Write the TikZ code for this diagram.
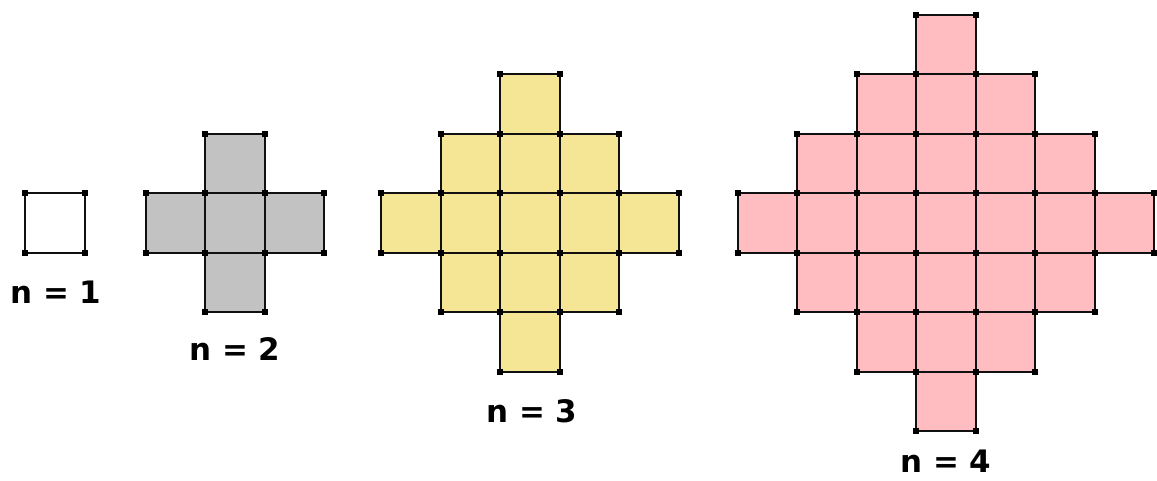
\documentclass[tikz,border=0pt]{standalone}
\usepackage{fontspec}
\setmainfont{DejaVu Sans}
\usepackage{tikz}
\usetikzlibrary{positioning, calc}
\definecolor{cellgray}{HTML}{C2C2C2}
\definecolor{cellyellow}{HTML}{F4E694}
\definecolor{cellpink}{HTML}{FFBCC1}
\definecolor{edgeblack}{HTML}{101010}
\newcommand{\cs}{59.5}
% diamond of cells: #1 = n, #2/#3 = centre, #4 = fill colour
\newcommand{\cellgrid}[4]{%
  \pgfmathtruncatemacro{\m}{#1-1}
  \foreach \i in {-\m,...,\m}{
    \foreach \j in {-\m,...,\m}{
      \pgfmathtruncatemacro{\d}{abs(\i)+abs(\j)}
      \ifnum\d<#1
        \filldraw[cellbox, fill=#4] ({#2+(\i-0.5)*\cs},{#3+(\j-0.5)*\cs}) rectangle ++(\cs,\cs);
      \fi
    }
  }
  \foreach \i in {-\m,...,\m}{
    \foreach \j in {-\m,...,\m}{
      \pgfmathtruncatemacro{\d}{abs(\i)+abs(\j)}
      \ifnum\d<#1
        \foreach \a/\b in {-0.5/-0.5, 0.5/-0.5, -0.5/0.5, 0.5/0.5}
          \fill[black] ({#2+(\i+\a)*\cs-3.2},{#3+(\j+\b)*\cs-3.2}) rectangle ++(6.4,6.4);
      \fi
    }
  }
}

\begin{document}
\begin{tikzpicture}[
  x=0.025cm, y=-0.025cm,
  cellbox/.style={draw=edgeblack, line width=1.5pt},
  caption/.style={font=\fontsize{22}{26}\selectfont\bfseries, anchor=base, inner sep=0pt}
]
  \useasboundingbox (0,0) rectangle (1157,480);

  \cellgrid{1}{55}{223}{white}
  \cellgrid{2}{235}{223}{cellgray}
  \cellgrid{3}{530}{223}{cellyellow}
  \cellgrid{4}{946}{223}{cellpink}

  \node[caption] (lbl1) at (56,303) {n = 1};
  \node[caption] (lbl2) at (235,360) {n = 2};
  \node[caption] (lbl3) at (532,422) {n = 3};
  \node[caption] (lbl4) at (946,472) {n = 4};
\end{tikzpicture}
\end{document}
